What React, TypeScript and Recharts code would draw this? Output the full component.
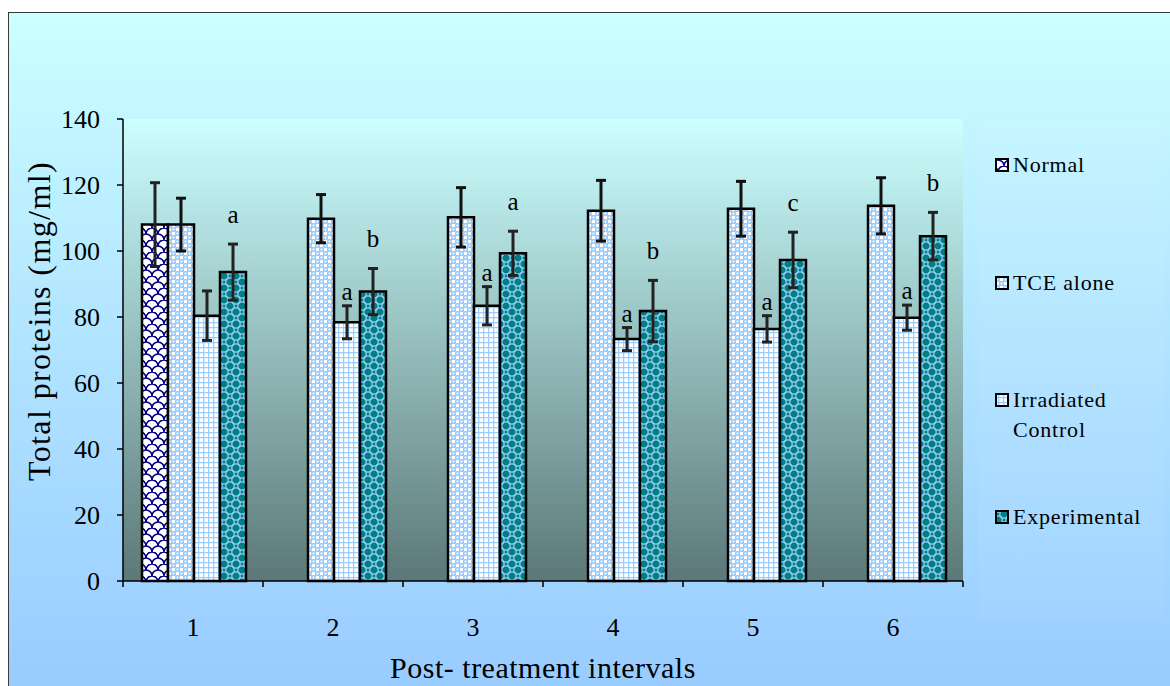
import React from 'react';
import { BarChart, Bar, XAxis, YAxis, CartesianGrid, ErrorBar, LabelList } from 'recharts';

// ---- data ----
const categories = ['1', '2', '3', '4', '5', '6'];
const seriesNames = ['Normal', 'TCE alone', 'Irradiated Control', 'Experimental'];
const normalValues = [108, null, null, null, null, null];
const normalErrors = [12.7, null, null, null, null, null];
const tceValues = [108, 109.8, 110.2, 112.2, 112.8, 113.7];
const tceErrors = [8, 7.3, 9, 9.2, 8.3, 8.5];
const irrValues = [80.4, 78.4, 83.4, 73.3, 76.4, 79.8];
const irrErrors = [7.5, 5, 5.8, 3.5, 4, 3.8];
const expValues = [93.6, 87.7, 99.3, 81.8, 97.3, 104.5];
const expErrors = [8.5, 7, 6.7, 9.3, 8.4, 7.2];
const irrLetters = ['', 'a', 'a', 'a', 'a', 'a'];
const expLetters = ['a', 'b', 'a', 'b', 'c', 'b'];
const yTicks = [0, 20, 40, 60, 80, 100, 120, 140];
const xTitle = 'Post- treatment intervals';
const yTitle = 'Total proteins (mg/ml)';

const data = categories.map((c, i) => ({
  interval: c,
  normal: normalValues[i],
  normalErr: normalErrors[i],
  tce: tceValues[i],
  tceErr: tceErrors[i],
  irr: irrValues[i],
  irrErr: irrErrors[i],
  exp: expValues[i],
  expErr: expErrors[i],
  irrLetter: irrLetters[i],
  expLetter: expLetters[i],
}));

const SERIF = '"Liberation Serif", "Times New Roman", serif';
const patternIds = ['patNormal', 'patTce', 'patIrr', 'patExp'];

const XTick = (props: any) => {
  const { x, y, payload, index } = props;
  const half = payload && payload.offset ? payload.offset : 70;
  const left = x - half;
  const isLast = index === categories.length - 1;
  return (
    <g>
      <line x1={left} y1={y} x2={left} y2={y + 6} stroke="#000" strokeWidth={1.5} />
      {isLast && <line x1={x + half} y1={y} x2={x + half} y2={y + 6} stroke="#000" strokeWidth={1.5} />}
      <text x={x} y={y + 55} textAnchor="middle" fontSize={26} fontFamily={SERIF} fill="#000">
        {payload.value}
      </text>
    </g>
  );
};

const makeLetterLabel = (values: (number | null)[], errors: (number | null)[], lift: number) => (props: any) => {
  const { x, y, width, height, value, index } = props;
  if (!value) return null;
  const v = values[index];
  const e = errors[index];
  if (v == null || e == null || !height) return null;
  const pxPerUnit = Math.abs(height) / v;
  const errTop = y - e * pxPerUnit;
  return (
    <text x={x + width / 2} y={errTop - lift} textAnchor="middle" fontSize={25} fontFamily={SERIF} fill="#000">
      {value}
    </text>
  );
};

const Patterns = () => (
  <defs>
    <linearGradient id="plotBg" x1="0" y1="0" x2="0" y2="1">
      <stop offset="0%" stopColor="#ccffff" />
      <stop offset="100%" stopColor="#5c7878" />
    </linearGradient>
    <pattern id="patNormal" width="12" height="12" patternUnits="userSpaceOnUse">
      <rect width="12" height="12" fill="#ffffff" />
      <path d="M0,12 A6,6 0 0 1 12,12 M-6,6 A6,6 0 0 1 6,6 M6,6 A6,6 0 0 1 18,6" stroke="#000080" strokeWidth={1.6} fill="none" />
    </pattern>
    <pattern id="patTce" width="8" height="8" patternUnits="userSpaceOnUse">
      <rect width="8" height="8" fill="#99ccff" />
      <rect x="0" y="0" width="3" height="3" fill="#ffffff" />
      <rect x="4" y="4" width="3" height="3" fill="#ffffff" />
      <circle cx="5.5" cy="1.5" r="1" fill="#ffffff" />
      <circle cx="1.5" cy="5.5" r="1" fill="#ffffff" />
    </pattern>
    <pattern id="patIrr" width="5" height="5" patternUnits="userSpaceOnUse">
      <rect width="5" height="5" fill="#ffffff" />
      <path d="M0,0.5 H5 M0.5,0 V5" stroke="#99ccff" strokeWidth={1.5} />
    </pattern>
    <pattern id="patExp" width="12" height="12" patternUnits="userSpaceOnUse">
      <rect width="12" height="12" fill="#008080" />
      <circle cx="0" cy="0" r="4.2" stroke="#99ccff" strokeWidth={1.2} fill="none" />
      <circle cx="12" cy="0" r="4.2" stroke="#99ccff" strokeWidth={1.2} fill="none" />
      <circle cx="0" cy="12" r="4.2" stroke="#99ccff" strokeWidth={1.2} fill="none" />
      <circle cx="12" cy="12" r="4.2" stroke="#99ccff" strokeWidth={1.2} fill="none" />
      <circle cx="6" cy="6" r="4.2" stroke="#99ccff" strokeWidth={1.2} fill="none" />
    </pattern>
  </defs>
);

const legendRows = [
  { name: seriesNames[0], pat: patternIds[0], lines: ['Normal'] },
  { name: seriesNames[1], pat: patternIds[1], lines: ['TCE alone'] },
  { name: seriesNames[2], pat: patternIds[2], lines: ['Irradiated', 'Control'] },
  { name: seriesNames[3], pat: patternIds[3], lines: ['Experimental'] },
];
const legendRowY = [23, 141, 258, 375];

export default function App() {
  return (
    <div
      style={{
        position: 'relative',
        marginLeft: 0,
        marginTop: 4,
        width: 1162,
        height: 674,
        borderLeft: '1.5px solid #3a3a3a',
        borderTop: '1.5px solid #3a3a3a',
        boxSizing: 'border-box',
        background: 'linear-gradient(to bottom, #ccffff 0%, #b3e6ff 45%, #99ccff 100%)',
        overflow: 'hidden',
      }}
    >
      <style>{'body{margin:8px 0 0 8px;overflow:hidden}'}</style>
      <div
        style={{
          position: 'absolute',
          left: 969,
          top: 106,
          width: 186,
          height: 500,
          background: 'rgba(255,255,255,0.05)',
        }}
      />
      <BarChart
        width={1162}
        height={674}
        data={data}
        margin={{ top: 107, right: 207, bottom: 0, left: 55 }}
        barGap={0}
        barCategoryGap={19}
        style={{ position: 'absolute', left: -1.5, top: -1.5 }}
      >
        <Patterns />
        <CartesianGrid horizontal={false} vertical={false} fill="url(#plotBg)" stroke="none" />
        <XAxis
          dataKey="interval"
          height={105}
          tickSize={0}
          tickMargin={0}
          tickLine={false}
          axisLine={{ stroke: '#000', strokeWidth: 1.5 }}
          tick={<XTick />}
          interval={0}
          label={{
            content: (p: any) => {
              const vb = p.viewBox || {};
              return (
                <text
                  x={vb.x + vb.width / 2}
                  y={vb.y + 97}
                  textAnchor="middle"
                  fontSize={30}
                  letterSpacing={0.5}
                  fontFamily={SERIF}
                  fill="#000"
                >
                  {xTitle}
                </text>
              );
            },
          }}
        />
        <YAxis
          width={60}
          domain={[0, 140]}
          ticks={yTicks}
          interval={0}
          tickSize={6}
          tickMargin={17}
          tickLine={{ stroke: '#000', strokeWidth: 1.5 }}
          axisLine={{ stroke: '#000', strokeWidth: 1.5 }}
          tick={{ fontSize: 26, fontFamily: SERIF, fill: '#000' }}
          label={{
            content: (p: any) => {
              const vb = p.viewBox || {};
              const cx = 42;
              const cy = vb.y + vb.height / 2 - 29;
              return (
                <text
                  x={cx}
                  y={cy}
                  transform={`rotate(-90, ${cx}, ${cy})`}
                  textAnchor="middle"
                  fontSize={32}
                  letterSpacing={1.4}
                  fontFamily={SERIF}
                  fill="#000"
                >
                  {yTitle}
                </text>
              );
            },
          }}
        />
        <Bar dataKey="normal" name={seriesNames[0]} fill="url(#patNormal)" stroke="#000" strokeWidth={2.5} isAnimationActive={false}>
          <ErrorBar dataKey="normalErr" width={5} strokeWidth={3} stroke="#222" direction="y" />
        </Bar>
        <Bar dataKey="tce" name={seriesNames[1]} fill="url(#patTce)" stroke="#000" strokeWidth={2.5} isAnimationActive={false}>
          <ErrorBar dataKey="tceErr" width={5} strokeWidth={3} stroke="#111" direction="y" />
        </Bar>
        <Bar dataKey="irr" name={seriesNames[2]} fill="url(#patIrr)" stroke="#000" strokeWidth={2.5} isAnimationActive={false}>
          <ErrorBar dataKey="irrErr" width={5} strokeWidth={3} stroke="#222" direction="y" />
          <LabelList dataKey="irrLetter" content={makeLetterLabel(irrValues, irrErrors, 6)} />
        </Bar>
        <Bar dataKey="exp" name={seriesNames[3]} fill="url(#patExp)" stroke="#000" strokeWidth={2.5} isAnimationActive={false}>
          <ErrorBar dataKey="expErr" width={5} strokeWidth={3} stroke="#222" direction="y" />
          <LabelList dataKey="expLetter" content={makeLetterLabel(expValues, expErrors, 21)} />
        </Bar>
      </BarChart>
      <svg
        width={200}
        height={420}
        style={{ position: 'absolute', left: 958.5, top: 128.5 }}
      >
        {legendRows.map((r, i) => (
          <g key={r.name}>
            <rect x={28} y={legendRowY[i] - 6} width={12} height={12} fill={`url(#${r.pat})`} stroke="#000" strokeWidth={2} />
            {r.lines.map((ln, j) => (
              <text
                key={ln}
                x={45}
                y={legendRowY[i] + 7 + j * 30}
                fontSize={22}
                letterSpacing={0.8}
                fontFamily={SERIF}
                fill="#000"
              >
                {ln}
              </text>
            ))}
          </g>
        ))}
      </svg>
    </div>
  );
}
